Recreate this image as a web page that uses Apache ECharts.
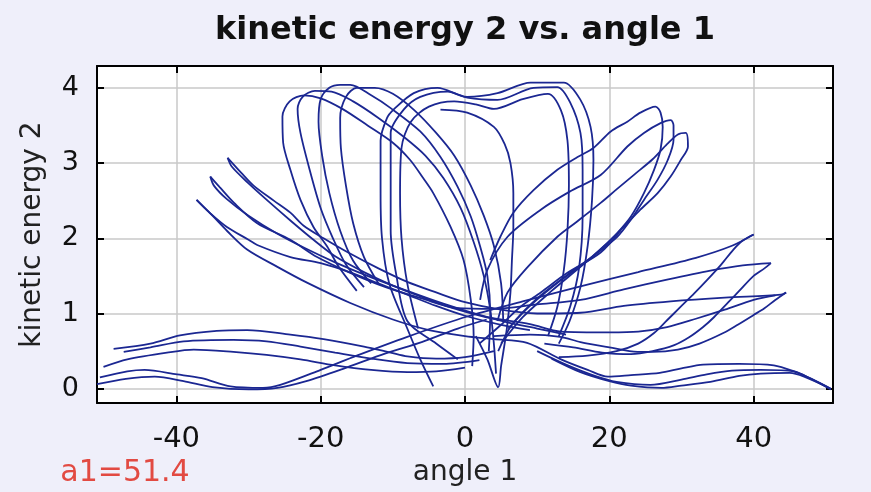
<!DOCTYPE html>
<html>
<head>
<meta charset="utf-8">
<script src="https://cdn.jsdelivr.net/npm/echarts@6/dist/echarts.min.js"></script>
<style>
  html, body { margin: 0; padding: 0; background: #efeffa; }
  #chart { width: 871px; height: 492px; }
</style>
</head>
<body>
<div id="chart"></div>
<script>
// Phase trace of a double pendulum: kinetic energy of bob 2 against angle 1 (degrees).
// Each array below is one traced stroke of the trajectory, as [angle 1, kinetic energy 2].

const xTicks = [-40, -20, 0, 20, 40];
const yTicks = [0, 1, 2, 3, 4];

// low sweeps near the left turnaround
const bandL1 = [[-48.7,0.53],[-43.6,0.6],[-39.5,0.71],[-34.4,0.77],[-30.2,0.78],[-24.2,0.72],[-19.6,0.66],[-14,0.56],[-10.3,0.48],[-8,0.43],[-4,0.4],[0,0.42],[4,0.5]];
const bandL2 = [[-47.3,0.49],[-43.6,0.55],[-39,0.63],[-32.1,0.65],[-27.5,0.63],[-22.8,0.56],[-18,0.48],[-13,0.4],[-8,0.34],[-3,0.33],[2,0.38]];
const bandL3 = [[-50.1,0.29],[-46.8,0.39],[-41.3,0.48],[-37.6,0.52],[-32.1,0.49],[-27.5,0.45],[-22.8,0.39],[-18,0.31],[-13,0.25],[-8,0.22],[-4,0.23],[0,0.28]];
// lowest sweep that climbs straight through the centre to the 40-degree tip
const lowToTip40 = [[-50.6,0.15],[-46.8,0.23],[-44.4,0.25],[-39.9,0.19],[-36.5,0.14],[-32.5,0.03],[-28,0.01],[-25.6,0.05],[-20,0.25],[-15,0.44],[-8,0.69],[0.3,0.96],[8,1.16],[16,1.36],[24,1.55],[32,1.74],[37,1.9],[40,2.05]];
const lowToCentre = [[-51,0.06],[-47,0.13],[-43,0.16],[-39,0.1],[-35,0.02],[-30,-0.01],[-26,0.01],[-22,0.1],[-17,0.26],[-11,0.47],[-6,0.62],[-1,0.8],[3,0.92]];
const tip40Return = [[40,2.05],[38.5,1.97],[37.2,1.85],[35.5,1.65],[33.6,1.45],[31.8,1.27],[29.9,1.09],[28,0.91],[26.2,0.74],[24,0.6],[21,0.5],[17,0.44],[13,0.42]];

// leaves reaching up to the left
const leafL1a = [[-32.9,3.07],[-31,2.87],[-29.3,2.7],[-26.5,2.5],[-24.2,2.34],[-22.4,2.17],[-19.6,2.0],[-16,1.8],[-12,1.6],[-8,1.42],[-4,1.28],[0,1.15],[5,1.05],[10,1.0],[16,1.01],[22,1.1],[28.5,1.16],[36,1.21],[43.8,1.25],[44.5,1.28]];
const leafL1b = [[-32.9,3.07],[-32.3,2.95],[-30,2.73],[-27,2.47],[-24,2.22],[-21,1.98],[-18,1.76],[-14,1.55],[-10,1.37],[-6,1.22],[-2,1.08],[3,0.95],[9,0.86],[13.3,0.76],[20,0.75],[24,0.76],[28,0.82],[32,0.93],[36,1.05],[40,1.18],[43,1.24]];
const leafL2a = [[-35.3,2.82],[-34,2.68],[-32,2.47],[-28.8,2.2],[-24.2,1.98],[-20.5,1.75],[-15.9,1.54],[-11,1.35],[-6,1.2],[-1,1.07],[4,1.06],[10,1.12],[16,1.18],[22,1.32],[28,1.45],[34,1.57],[38.5,1.64],[42.4,1.67]];
const leafL2b = [[-35.3,2.82],[-34.8,2.7],[-33,2.52],[-30,2.3],[-26,2.06],[-22,1.86],[-18,1.68],[-13,1.48],[-8,1.3],[-3,1.13],[2,0.98],[6,0.88],[10,0.8],[14,0.72]];
const leafL3a = [[-37.2,2.51],[-35.5,2.35],[-33,2.15],[-30,1.98],[-28.8,1.91],[-24.2,1.75],[-20,1.67],[-16,1.55],[-12,1.4],[-8,1.25],[-4,1.1],[0,0.97],[5,0.85],[9,0.78]];
const leafL3b = [[-37.2,2.51],[-35,2.3],[-33,2.1],[-30.2,1.85],[-26,1.62],[-21.9,1.41],[-15.9,1.14],[-10,0.92],[-5,0.78],[0,0.7],[4,0.66],[8.6,0.61],[13.3,0.39],[17,0.25],[19.8,0.16],[23,0.18],[27,0.21],[30,0.27],[33,0.32],[38,0.33],[42.8,0.31],[45.6,0.23],[48,0.13],[50.7,-0.01]];

// low sweeps near the right turnaround
const bandR1 = [[10,0.5],[14,0.32],[18,0.17],[21,0.09],[25.7,0.05],[30,0.12],[33.5,0.19],[37,0.24],[41,0.25],[45.6,0.23],[48,0.13],[50.7,0]];
const bandR2 = [[12,0.4],[16,0.22],[20,0.1],[23,0.04],[27.2,0.01],[30,0.04],[34,0.09],[38,0.17],[41,0.2],[45,0.21],[47,0.16],[50.7,0]];

// drops back from the right tips
const tip42Return = [[42.4,1.67],[41.5,1.6],[40,1.5],[38,1.3],[36.5,1.15],[34.5,0.95],[33,0.82],[31,0.68],[29,0.58],[26,0.5],[23,0.46],[19,0.48],[15,0.55],[11,0.6]];
const tip45Return = [[44.5,1.28],[43,1.18],[41.5,1.07],[40,0.98],[37.8,0.85],[35.8,0.74],[32.5,0.6],[29.5,0.52],[26,0.49],[23.9,0.49],[20,0.55],[16,0.62],[13.2,0.69],[9,0.72],[4,0.7]];

// tall arcs on the left of the centre
const tallL1 = [[-15,1.3],[-17.5,1.62],[-19.1,1.89],[-21,2.15],[-22.8,2.51],[-24.2,2.91],[-25.2,3.27],[-25.3,3.62],[-24.3,3.82],[-22.3,3.9],[-20,3.86],[-17,3.72],[-13.5,3.5],[-10,3.27],[-7.6,3.04],[-5.8,2.8],[-4.4,2.6],[-2,2.15],[-0.2,1.71],[0.8,1.18],[1.2,0.7],[1,0.3]];
const tallL2 = [[-14,1.35],[-16.5,1.65],[-18.3,2.0],[-20,2.4],[-21.5,2.9],[-22.8,3.4],[-23.2,3.72],[-22.5,3.88],[-20.8,3.96],[-18.5,3.95],[-15.5,3.82],[-12,3.6],[-8.5,3.35],[-5.5,3.1],[-3,2.8],[-0.6,2.4],[1.2,1.95],[2.6,1.5],[3.5,1.05],[4,0.6],[4.3,0.2]];
const tallL3 = [[-13,1.4],[-15.5,1.7],[-17.3,2.1],[-18.8,2.6],[-19.8,3.1],[-20.3,3.55],[-20,3.85],[-18.8,4.0],[-17.3,4.04],[-15.9,4.04],[-13,3.9],[-10.3,3.73],[-6.2,3.42],[-3.4,3.08],[-1,2.68],[0.8,2.29],[2.1,1.89],[3.1,1.5],[3.5,1.0],[3.3,0.5]];
const tallL4 = [[-12,1.4],[-14,1.75],[-15.5,2.2],[-16.5,2.7],[-17.2,3.2],[-17.3,3.6],[-16.5,3.88],[-15,4.0],[-12.5,4.0],[-10,3.92],[-7,3.7],[-4,3.4],[-1.5,3.1],[0.8,2.7],[2.6,2.3],[4,1.9],[5,1.4],[5.3,0.9]];

// wide loops across the top
const topLoop1 = [[-4.4,0.03],[-6.2,0.39],[-8,0.8],[-10.5,1.4],[-11.5,2.0],[-11.7,2.6],[-11.7,3.3],[-10.8,3.6],[-9.9,3.71],[-7.1,3.93],[-3.8,4.0],[0.3,3.88],[4.5,3.93],[9.1,4.07],[13.7,4.07],[16,3.84],[17.4,3.48],[17.8,3.04],[17.6,2.5],[17,1.9],[16,1.35],[14.5,0.9],[13,0.6]];
const topLoop2 = [[-1,0.39],[-4,0.6],[-8,0.9],[-9.5,1.5],[-10.3,2.1],[-10.3,2.7],[-10.3,3.4],[-8.5,3.71],[-6.2,3.88],[-2.4,3.95],[0.3,3.87],[4.5,3.84],[9.5,4.0],[12.8,4.01],[14.6,3.8],[16,3.4],[16.3,2.91],[16.3,2.3],[15.8,1.6],[14.6,1.1],[13,0.7]];
const topLoop3 = [[-6.5,0.8],[-8,1.4],[-8.8,2.0],[-9,2.6],[-8.8,3.2],[-7.5,3.55],[-5,3.75],[-1.5,3.82],[1.5,3.78],[4,3.72],[8,3.85],[11.5,3.92],[13.3,3.7],[14.2,3.3],[14.4,2.7],[14.2,2.1],[13.7,1.58],[12.8,1.09],[11.5,0.7]];
const innerDrop = [[-3.4,3.71],[0.3,3.67],[4,3.48],[5.5,3.25],[6.3,3.0],[6.7,2.6],[6.7,2.15],[6.5,1.7],[6.3,1.28],[5.8,0.8],[5,0.3],[4.6,0.02],[3.1,0.39],[1.5,0.7]];

// leaves reaching up to the right
const leafR1 = [[3.5,1.71],[4.9,2.02],[6.7,2.34],[9.5,2.64],[12.8,2.91],[15.6,3.08],[17.8,3.2],[20.2,3.42],[22.5,3.55],[24.3,3.67],[26.4,3.75],[27.1,3.67],[27.4,3.48],[27.1,3.18],[26.2,2.91],[24.8,2.6],[23,2.29],[21.1,2.07],[19.2,1.89],[16,1.62],[12,1.3],[8,0.95],[5,0.6]];
const leafR2 = [[2.1,1.18],[3.1,1.58],[5.9,2.02],[10.5,2.38],[14.5,2.62],[18.8,2.84],[22.5,3.22],[24.8,3.4],[27.1,3.53],[28.5,3.57],[28.9,3.5],[28.9,3.31],[28.1,3.04],[26.7,2.78],[24.8,2.51],[23,2.25],[21.1,2.02],[18,1.78],[14,1.5],[10,1.2],[6.5,0.85],[4.6,0.5]];
const leafR3 = [[4.5,0.9],[5.9,1.28],[8.7,1.62],[12.8,2.02],[15.5,2.22],[18.8,2.47],[21,2.65],[23.5,2.85],[26,3.05],[28,3.25],[29.5,3.38],[30.6,3.4],[30.9,3.22],[29.9,3.04],[28.5,2.82],[26.7,2.6],[24.3,2.38],[22,2.15],[20.2,1.98],[17,1.7],[13,1.42],[9,1.1],[6,0.8]];
const leafStem = [[21.6,2.11],[18.8,1.81],[14.2,1.54],[10.5,1.28],[7.7,1.09],[5,0.85],[2,0.6]];

const strokes = [
  bandL1, bandL2, bandL3, lowToTip40, lowToCentre, tip40Return,
  leafL1a, leafL1b, leafL2a, leafL2b, leafL3a, leafL3b,
  bandR1, bandR2, tip42Return, tip45Return,
  tallL1, tallL2, tallL3, tallL4,
  topLoop1, topLoop2, topLoop3, innerDrop,
  leafR1, leafR2, leafR3, leafStem
];

const X_MIN = -51, X_MAX = 51;
const Y_MIN = -0.19, Y_MAX = 4.29;
const traceColor = '#1b2792';
const labelFont = 'DejaVu Sans';

const chart = echarts.init(document.getElementById('chart'), null, { renderer: 'canvas' });

const frameLine = { show: true, onZero: false, lineStyle: { color: '#000', width: 2 } };
const innerTick = { show: true, inside: true, length: 7, lineStyle: { color: '#000', width: 2 } };

chart.setOption({
  animation: false,
  backgroundColor: '#efeffa',
  grid: { left: 97, right: 38, top: 66, bottom: 89, show: true, backgroundColor: '#ffffff', borderWidth: 0 },
  xAxis: [
    {
      type: 'value', min: X_MIN, max: X_MAX, splitNumber: 5, position: 'bottom',
      axisLine: frameLine, axisTick: innerTick,
      axisLabel: {
        margin: 22, color: '#111', fontSize: 29, fontFamily: labelFont,
        showMinLabel: false, showMaxLabel: false,
        formatter: v => (xTicks.indexOf(v) >= 0 ? String(v) : '')
      },
      splitLine: { show: true, lineStyle: { color: '#c9c9c9', width: 1.5 } },
      name: 'angle 1', nameLocation: 'middle', nameGap: 55,
      nameTextStyle: { color: '#222', fontSize: 28, fontFamily: labelFont }
    },
    {
      type: 'value', min: X_MIN, max: X_MAX, splitNumber: 5, position: 'top',
      axisLine: frameLine, axisTick: innerTick,
      axisLabel: { show: false }, splitLine: { show: false }
    }
  ],
  yAxis: [
    {
      type: 'value', min: Y_MIN, max: Y_MAX, splitNumber: 4, position: 'left',
      axisLine: frameLine, axisTick: innerTick,
      axisLabel: {
        margin: 18, color: '#111', fontSize: 27, fontFamily: labelFont,
        showMinLabel: false, showMaxLabel: false,
        formatter: v => (yTicks.indexOf(v) >= 0 ? String(v) : '')
      },
      splitLine: { show: true, lineStyle: { color: '#c9c9c9', width: 1.5 } },
      name: 'kinetic energy 2', nameLocation: 'middle', nameGap: 50,
      nameTextStyle: { color: '#222', fontSize: 28, fontFamily: labelFont }
    },
    {
      type: 'value', min: Y_MIN, max: Y_MAX, splitNumber: 4, position: 'right',
      axisLine: frameLine, axisTick: innerTick,
      axisLabel: { show: false }, splitLine: { show: false }
    }
  ],
  graphic: [
    {
      type: 'text', x: 465, y: 31, silent: true,
      style: {
        text: 'kinetic energy 2 vs. angle 1',
        font: 'bold 32px "DejaVu Sans"', fill: '#111',
        align: 'center', verticalAlign: 'middle', textAlign: 'center', textVerticalAlign: 'middle'
      }
    },
    {
      type: 'text', x: 125, y: 473, silent: true,
      style: {
        text: 'a1=51.4',
        font: '30px "DejaVu Sans"', fill: '#e24a42',
        align: 'center', verticalAlign: 'middle', textAlign: 'center', textVerticalAlign: 'middle'
      }
    }
  ],
  series: strokes.map(pts => ({
    type: 'line',
    xAxisIndex: 0,
    yAxisIndex: 0,
    data: pts,
    showSymbol: false,
    smooth: 0.3,
    clip: true,
    silent: true,
    lineStyle: { color: traceColor, width: 1.8 }
  }))
});
</script>
</body>
</html>
